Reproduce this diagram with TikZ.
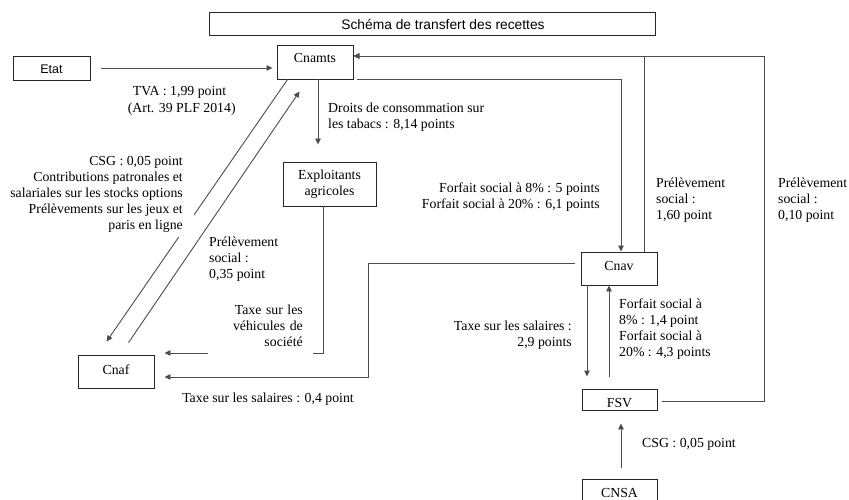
\documentclass[tikz,border=0pt]{standalone}
\usepackage{fontspec}
\setmainfont{Liberation Serif}
\newfontfamily\arialfont{Liberation Sans}
\usetikzlibrary{arrows.meta,calc}
\begin{document}
\begin{tikzpicture}[x=1pt,y=-1pt,
  font=\fontsize{13.8}{16.1}\selectfont,
  box/.style={draw=black!85, line width=0.9pt, inner sep=0pt},
  tdep/.style={text height=9.5pt, text depth=#1},
  conn/.style={draw=black!70, line width=0.9pt},
  arr/.style={conn, -{Triangle[length=6pt,width=5.5pt]}},
  lbl/.style={inner sep=0pt},
  cover/.style={fill=white, inner ysep=4pt},
]
\useasboundingbox (0,0) rectangle (849,500);
\clip (0,0) rectangle (849,500);

% boxes
\node[box, minimum width=446pt, minimum height=23pt, text height=13pt, text depth=0pt,
      font=\arialfont\fontsize{13.8}{16.1}\selectfont] (title) at (432,23.5)
      {\hspace*{22pt}Schéma de transfert des recettes};
\node[box, minimum width=77pt, minimum height=24pt, text height=12pt, text depth=0pt,
      font=\arialfont\fontsize{12.5}{15}\selectfont] (etat) at (51.5,68) {Etat};
\node[box, minimum width=76pt, minimum height=34pt, tdep=8.3pt] (cnamts) at (315,62) {Cnamts};
\node[box, minimum width=93pt, minimum height=44pt, align=center] (expl) at (329.5,184) {Exploitants\\agricoles};
\node[box, minimum width=76pt, minimum height=33pt, tdep=4.5pt] (cnaf) at (116,371.5) {Cnaf};
\node[box, minimum width=76pt, minimum height=33pt, tdep=5.3pt] (cnav) at (619,268.5) {Cnav};
\node[box, minimum width=75pt, minimum height=21pt, text height=15pt, text depth=0pt] (fsv) at (619.5,399.5) {FSV};
\node[box, minimum width=75pt, minimum height=33pt, tdep=5.3pt] (cnsa) at (619.5,495.5) {CNSA};

% connectors
\draw[arr] ($(etat.east)+(11,0)$) -- ($(cnamts.west)+(-4,6)$);
\draw[arr] ($(cnamts.south west)+(11,0)$) -- ($(cnaf.north west)+(29,-13)$);
\draw[arr] ($(cnaf.north west)+(51,-12)$) -- ($(cnamts.south west)+(23,12)$);
\draw[arr] ($(cnamts.south)+(3,0)$) -- ($(expl.north)+(-11.5,-17)$);
\draw[arr] ($(expl.south)+(-6.5,0)$) |- ($(cnaf.east)+(10,-18.5)$);
\draw[arr] ($(cnav.west)+(-6,-5.5)$) -- ++(-206,0) |- ($(cnaf.east)+(10,5.5)$);
\draw[arr] ($(cnamts.south east)+(4,0)$) -| ($(cnav.north)+(2,0)$);
\draw[arr] ($(cnav.north)+(25,0)$) |- ($(cnamts.east)+(0,-6)$);
\draw[arr] ($(fsv.east)+(5,1.5)$) -- ++(102,0) |- ($(cnamts.east)+(0,-6)$);
\draw[arr] ($(cnav.south)+(-32,0)$) -- ($(fsv.north)+(-32.5,-12)$);
\draw[arr] ($(fsv.north)+(-10.5,-12)$) -- ($(cnav.south)+(-10,0)$);
\draw[arr] ($(cnsa.north)+(1.5,-11)$) -- ($(fsv.south)+(1.5,13)$);

% labels
\node[lbl, anchor=north west, align=left, font=\fontsize{13.8}{17.7}\selectfont] (tva) at (127.7,82.6)
  {\strut\hspace*{5pt}TVA : 1,99 point\\(Art. 39 PLF 2014)};
\node[lbl, anchor=north west, align=left] (droits) at (328,100.7)
  {\strut Droits de consommation sur\\les tabacs : 8,14 points};
\node[lbl, cover, anchor=north east, align=right, inner xsep=11pt] (csg1) at (194,149.7)
  {\strut CSG : 0,05 point\\Contributions patronales et\\salariales sur les stocks options\\Prélèvements sur les jeux et\\paris en ligne};
\node[lbl, anchor=north west, align=left] (p035) at (209,234.7)
  {\strut Prélèvement\\social :\\0,35 point};
\node[lbl, cover, anchor=north east, align=right, text width=85pt, inner xsep=10pt, inner ysep=6pt] (tvs) at (313,296.7)
  {\strut Taxe sur les\\véhicules de\\société\strut};
\node[lbl, anchor=base] (tsal04) at (268,402) {Taxe sur les salaires : 0,4 point};
\node[lbl, anchor=north east, align=right] (forf1) at (600,180.7)
  {\strut Forfait social à 8\% : 5 points\\Forfait social à 20\% : 6,1 points};
\node[lbl, anchor=north west, align=left] (p160) at (656,175.7)
  {\strut Prélèvement\\social :\\1,60 point};
\node[lbl, anchor=north west, align=left] (p010) at (778,175.7)
  {\strut Prélèvement\\social :\\0,10 point};
\node[lbl, anchor=north east, align=right] (tsal29) at (572,318.7)
  {\strut Taxe sur les salaires :\\2,9 points};
\node[lbl, anchor=north west, align=left] (forf2) at (619,296.7)
  {\strut Forfait social à\\8\% : 1,4 point\\Forfait social à\\20\% : 4,3 points};
\node[lbl, anchor=base west] (csg2) at (642,447) {CSG : 0,05 point};
\end{tikzpicture}
\end{document}
